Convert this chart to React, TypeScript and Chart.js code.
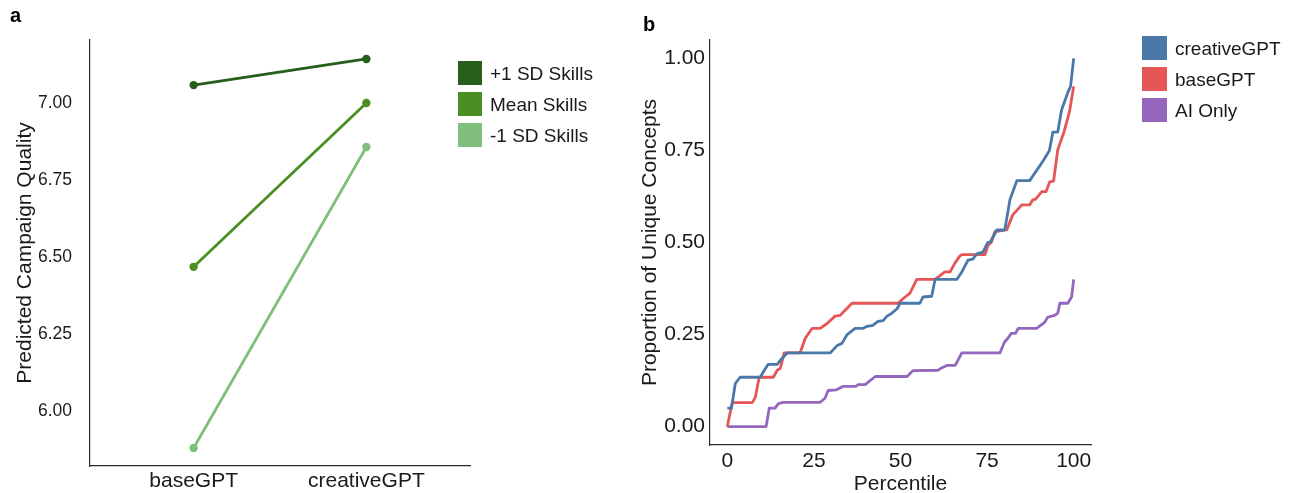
import React, { useEffect, useRef } from "react";
import { Chart, registerables } from "chart.js";

Chart.register(...registerables);

// ---------- Panel a data ----------
const conditions = ["baseGPT", "creativeGPT"];
const skillLevels = ["+1 SD Skills", "Mean Skills", "-1 SD Skills"];
const skillColors = ["#265e1a", "#4b8f22", "#7fbf7b"];
const plusOneSD = [7.058, 7.143];
const meanSkills = [6.468, 7.0];
const minusOneSD = [5.88, 6.857];
const qualityTicks = [6.0, 6.25, 6.5, 6.75, 7.0];

// ---------- Panel b data ----------
const groupNames = ["creativeGPT", "baseGPT", "AI Only"];
const groupColors = ["#4a78a9", "#e45756", "#9467bd"];

const creativePct = [0, 1.2, 2.3, 3.7, 9.5, 11, 11.8, 14.4, 15.3, 17.3, 29.7, 31.7, 33.1, 34.6, 36.9, 39.2, 40.3, 42, 43.5, 45, 46.1, 47.5, 49, 49.9, 55.6, 56.5, 59, 60, 66.3, 67.7, 69.5, 70.9, 72, 73.8, 75.2, 76, 77.8, 80.1, 81.6, 83.6, 87.3, 88.8, 90.2, 91.6, 93, 94, 95.4, 96.5, 98.3, 99.1, 100];
const creativeVal = [0.05, 0.05, 0.117, 0.134, 0.134, 0.158, 0.169, 0.169, 0.18, 0.2, 0.2, 0.22, 0.226, 0.25, 0.267, 0.267, 0.272, 0.275, 0.286, 0.288, 0.3, 0.308, 0.32, 0.335, 0.335, 0.352, 0.354, 0.4, 0.4, 0.42, 0.452, 0.455, 0.469, 0.474, 0.5, 0.502, 0.534, 0.534, 0.616, 0.668, 0.668, 0.689, 0.708, 0.728, 0.75, 0.8, 0.8, 0.86, 0.907, 0.924, 1.0];

const basePct = [0, 1.4, 7.2, 8.1, 9.2, 13.3, 14.4, 15.3, 16.4, 21, 22.5, 24.5, 26.8, 28.8, 31.1, 32.6, 34, 36, 49.3, 51.3, 52.7, 54.7, 60, 62.8, 64.3, 65.7, 67.1, 67.7, 74.4, 75.3, 76.2, 77.2, 80.7, 82.4, 85, 87.3, 88.2, 89, 90.8, 92, 93.1, 94.2, 95.4, 97.2, 98.8, 100];
const baseVal = [0, 0.065, 0.065, 0.08, 0.134, 0.134, 0.153, 0.158, 0.2, 0.2, 0.24, 0.267, 0.267, 0.28, 0.3, 0.302, 0.316, 0.335, 0.335, 0.352, 0.362, 0.4, 0.4, 0.42, 0.42, 0.444, 0.463, 0.467, 0.467, 0.493, 0.5, 0.529, 0.535, 0.575, 0.602, 0.602, 0.616, 0.618, 0.638, 0.638, 0.665, 0.667, 0.752, 0.8, 0.856, 0.924];

const aiOnlyPct = [0, 11.2, 12.1, 13.8, 14.7, 16.1, 26.8, 28.2, 29.1, 31.5, 33.4, 37, 37.8, 39.8, 42.7, 51.9, 53.6, 60.8, 62, 63.4, 65.7, 66.3, 67.7, 78.7, 80, 81, 82, 83.2, 84, 89.3, 91.6, 92.5, 94.5, 95.4, 96, 98.3, 99.4, 100];
const aiOnlyVal = [0, 0, 0.05, 0.05, 0.062, 0.066, 0.066, 0.077, 0.098, 0.1, 0.109, 0.109, 0.114, 0.114, 0.136, 0.136, 0.152, 0.153, 0.16, 0.166, 0.166, 0.175, 0.2, 0.2, 0.229, 0.24, 0.253, 0.253, 0.267, 0.267, 0.283, 0.297, 0.302, 0.308, 0.335, 0.335, 0.352, 0.4];

const percentileTicks = [0, 25, 50, 75, 100];
const proportionTicks = [0, 0.25, 0.5, 0.75, 1.0];

const FONT = "'Liberation Sans', Arial, Helvetica, sans-serif";
const TEXT = "#1a1a1a";
const AXIS = "#2b2b2b";

const zip = (xs: number[], ys: number[]) => xs.map((x, i) => ({ x, y: ys[i] }));

const resetPad = (s: any) => {
  s.paddingLeft = 0;
  s.paddingRight = 0;
  s.paddingTop = 0;
  s.paddingBottom = 0;
};

export default function App() {
  const refA = useRef<HTMLCanvasElement | null>(null);
  const refB = useRef<HTMLCanvasElement | null>(null);

  useEffect(() => {
    Chart.defaults.font.family = FONT;
    Chart.defaults.color = TEXT;

    const seriesA = [plusOneSD, meanSkills, minusOneSD];
    const chartA = new Chart(refA.current as HTMLCanvasElement, {
      type: "line",
      data: {
        datasets: seriesA.map((vals, i) => ({
          label: skillLevels[i],
          data: vals.map((v, j) => ({ x: j + 1, y: v })),
          borderColor: skillColors[i],
          backgroundColor: skillColors[i],
          borderWidth: 2.8,
          pointRadius: 4.2,
          pointBorderWidth: 0,
          pointBackgroundColor: skillColors[i],
          tension: 0,
        })),
      },
      options: {
        animation: false,
        responsive: false,
        maintainAspectRatio: false,
        layout: { padding: { left: 0, right: 170, top: 40, bottom: 0 } },
        plugins: { legend: { display: false }, tooltip: { enabled: false } },
        scales: {
          x: {
            type: "linear",
            min: 0.4,
            max: 2.6,
            afterBuildTicks: (s: any) => {
              s.ticks = [1, 2].map((v) => ({ value: v }));
            },
            afterFit: (s: any) => {
              s.height = 27;
              resetPad(s);
            },
            grid: { display: false, drawTicks: false },
            border: { display: true, color: AXIS, width: 1.2 },
            ticks: {
              padding: 2.4,
              color: TEXT,
              font: { size: 21 },
              maxRotation: 0,
              autoSkip: false,
              callback: (v: any) => conditions[Math.round(Number(v)) - 1] ?? "",
            },
          },
          y: {
            type: "linear",
            min: 5.8214,
            max: 7.2045,
            afterBuildTicks: (s: any) => {
              s.ticks = qualityTicks.map((v) => ({ value: v }));
            },
            afterFit: (s: any) => {
              s.width = 90;
              resetPad(s);
            },
            grid: { display: false, drawTicks: false },
            border: { display: true, color: AXIS, width: 1.2 },
            ticks: {
              padding: 18,
              color: TEXT,
              font: { size: 17.5 },
              autoSkip: false,
              callback: (v: any) => Number(v).toFixed(2),
            },
            title: {
              display: true,
              text: "Predicted Campaign Quality",
              color: TEXT,
              font: { size: 21, lineHeight: 1 },
              padding: { top: 14.5, bottom: 0 },
            },
          },
        },
      },
    } as any);

    const seriesB = [zip(creativePct, creativeVal), zip(basePct, baseVal), zip(aiOnlyPct, aiOnlyVal)];
    const chartB = new Chart(refB.current as HTMLCanvasElement, {
      type: "line",
      data: {
        datasets: seriesB.map((pts, i) => ({
          label: groupNames[i],
          data: pts,
          borderColor: groupColors[i],
          backgroundColor: groupColors[i],
          borderWidth: 2.8,
          pointRadius: 0,
          tension: 0,
          borderJoinStyle: "round",
          borderCapStyle: "butt",
        })),
      },
      options: {
        animation: false,
        responsive: false,
        maintainAspectRatio: false,
        layout: { padding: { left: 0, right: 202, top: 40, bottom: 0 } },
        plugins: { legend: { display: false }, tooltip: { enabled: false } },
        scales: {
          x: {
            type: "linear",
            min: -5,
            max: 105,
            afterBuildTicks: (s: any) => {
              s.ticks = percentileTicks.map((v) => ({ value: v }));
            },
            afterFit: (s: any) => {
              s.height = 48;
              resetPad(s);
            },
            grid: { display: false, drawTicks: false },
            border: { display: true, color: AXIS, width: 1.2 },
            ticks: {
              padding: 3.4,
              color: TEXT,
              font: { size: 21 },
              maxRotation: 0,
              autoSkip: false,
              callback: (v: any) => String(v),
            },
            title: {
              display: true,
              text: "Percentile",
              color: TEXT,
              font: { size: 21, lineHeight: 1 },
              padding: { top: 0, bottom: -1.5 },
            },
          },
          y: {
            type: "linear",
            min: -0.05,
            max: 1.05,
            afterBuildTicks: (s: any) => {
              s.ticks = proportionTicks.map((v) => ({ value: v }));
            },
            afterFit: (s: any) => {
              s.width = 70;
              resetPad(s);
            },
            grid: { display: false, drawTicks: false },
            border: { display: true, color: AXIS, width: 1.2 },
            ticks: {
              padding: 5,
              color: TEXT,
              font: { size: 21 },
              autoSkip: false,
              callback: (v: any) => Number(v).toFixed(2),
            },
            title: {
              display: true,
              text: "Proportion of Unique Concepts",
              color: TEXT,
              font: { size: 21, lineHeight: 1 },
              padding: { top: 0, bottom: 0 },
            },
          },
        },
      },
    } as any);

    return () => {
      chartA.destroy();
      chartB.destroy();
    };
  }, []);

  const legendItem = (
    key: string,
    color: string,
    label: string,
    left: number,
    top: number,
    w: number,
    h: number
  ) => (
    <div key={key} style={{ position: "absolute", left, top, height: h, display: "flex", alignItems: "center" }}>
      <div style={{ width: w, height: h, background: color }} />
      <span style={{ marginLeft: 8, fontSize: 19, color: TEXT, fontFamily: FONT, whiteSpace: "nowrap", lineHeight: 1 }}>
        {label}
      </span>
    </div>
  );

  const legendTopsA = [61, 92, 123];
  const legendTopsB = [36, 67, 98];

  return (
    <div
      style={{
        position: "fixed",
        left: 0,
        top: 0,
        width: 1293,
        height: 493,
        background: "#ffffff",
        overflow: "hidden",
        fontFamily: FONT,
      }}
    >
      <canvas ref={refA} width={640} height={493} style={{ position: "absolute", left: 0, top: 0, width: 640, height: 493 }} />
      <canvas ref={refB} width={653} height={493} style={{ position: "absolute", left: 640, top: 0, width: 653, height: 493 }} />
      <div style={{ position: "absolute", left: 10, top: 5, fontSize: 20, fontWeight: "bold", lineHeight: 1, color: "#000" }}>a</div>
      <div style={{ position: "absolute", left: 643, top: 14, fontSize: 20, fontWeight: "bold", lineHeight: 1, color: "#000" }}>b</div>
      {skillLevels.map((s, i) => legendItem("a" + i, skillColors[i], s, 458, legendTopsA[i], 24, 24))}
      {groupNames.map((s, i) => legendItem("b" + i, groupColors[i], s, 1142, legendTopsB[i], 25, 24))}
    </div>
  );
}
